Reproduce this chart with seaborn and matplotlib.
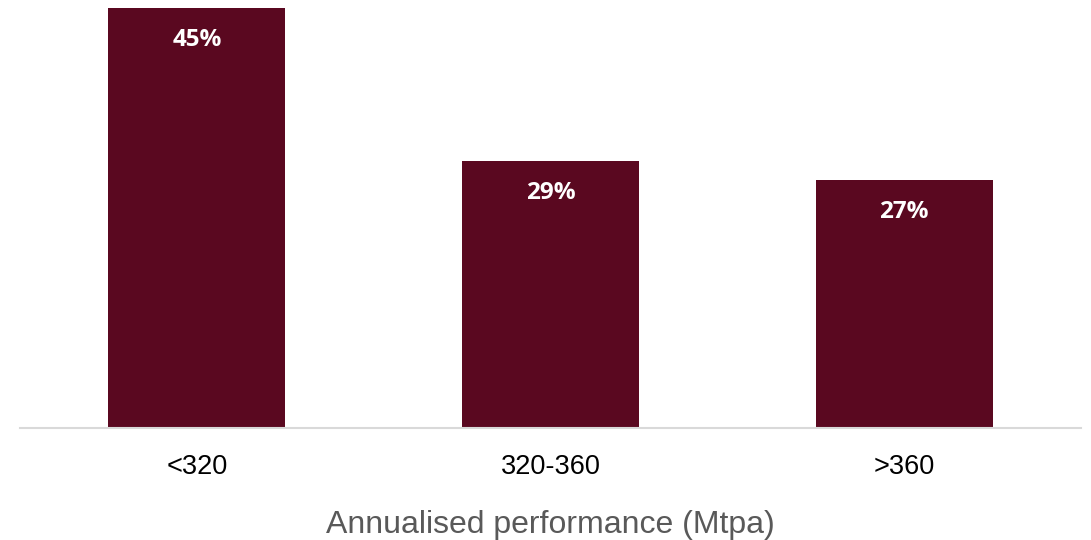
import matplotlib
matplotlib.use("Agg")
import matplotlib.pyplot as plt
import seaborn as sns
import pandas as pd

categories = ["<320", "320-360", ">360"]
shares = [45.0, 28.6, 26.6]
x_title = "Annualised performance (Mtpa)"

sns.set_theme(style="white")
plt.rcParams["font.family"] = ["Liberation Sans", "DejaVu Sans"]

df = pd.DataFrame({"cat": categories, "share": shares})

fig = plt.figure(figsize=(10.91, 5.40), dpi=100)
ax = fig.add_axes([20/1091, 1 - 428/540, 1061/1091, 428/540])
sns.barplot(data=df, x="cat", y="share", color="#5A0820", saturation=1,
            width=0.5, linewidth=0, ax=ax)
ax.set_xlim(-0.5, 2.5)
ax.set_ylim(0, 45.0 * 428 / 420)

for i, v in enumerate(shares):
    ax.annotate(f"{v:.0f}%", xy=(i, v), xytext=(0, -23), textcoords="offset points",
                ha="center", va="center", color="white", fontsize=17.5,
                fontweight="bold", family=["Open Sans", "DejaVu Sans"])

for s in ["top", "right", "left"]:
    ax.spines[s].set_visible(False)
ax.spines["bottom"].set_color("#d9d9d9")
ax.spines["bottom"].set_linewidth(1.5)
ax.set_yticks([])
ax.set_ylabel("")
ax.tick_params(axis="x", length=0, pad=19, labelsize=19.5, labelcolor="black")
ax.set_xlabel(x_title, fontsize=23, color="#595959", labelpad=21)

fig.savefig("out.png", dpi=100)
